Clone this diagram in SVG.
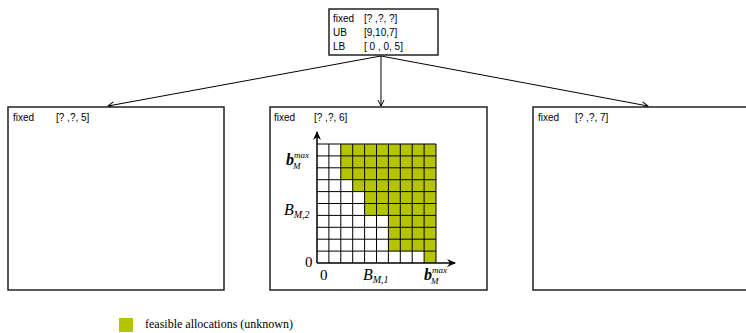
<svg xmlns="http://www.w3.org/2000/svg" width="746" height="333" viewBox="0 0 746 333">
<defs>
<marker id="ah" markerWidth="8" markerHeight="8" refX="7" refY="4" orient="auto" markerUnits="userSpaceOnUse">
<path d="M1,1 L7,4 L1,7" fill="none" stroke="#000" stroke-width="1"/>
</marker>
<marker id="ax" markerWidth="10" markerHeight="10" refX="8" refY="5" orient="auto" markerUnits="userSpaceOnUse">
<path d="M0,1 L9,5 L0,9 L3,5 Z" fill="#000"/>
</marker>
</defs>
<style>
.box{fill:#fff;stroke:#222;stroke-width:1.5}
.t{font-family:"Liberation Sans",Arial,sans-serif;font-size:10px;fill:#000}
.m{font-family:"Liberation Serif","Times New Roman",serif;font-style:italic;font-weight:bold;fill:#000}
.mi{font-family:"Liberation Serif","Times New Roman",serif;font-style:italic;fill:#000}
.s{font-family:"Liberation Serif","Times New Roman",serif;fill:#000}
.g{fill:#b4c400}
.grid{stroke:#000;stroke-width:1;fill:none}
</style>
<rect width="746" height="333" fill="#fff"/>
<g id="connectors" stroke="#000" stroke-width="1" fill="none">
<line x1="381" y1="56" x2="108" y2="106" marker-end="url(#ah)"/>
<line x1="381" y1="56" x2="381" y2="106" marker-end="url(#ah)"/>
<line x1="381" y1="56" x2="648" y2="106" marker-end="url(#ah)"/>
</g>
<g id="root">
<rect class="box" x="329" y="9" width="109" height="46"/>
<text class="t" x="333" y="22">fixed</text><text class="t" x="364" y="22">[? ,?, ?]</text>
<text class="t" x="333" y="36">UB</text><text class="t" x="364" y="36">[9,10,7]</text>
<text class="t" x="333" y="50">LB</text><text class="t" x="364" y="50">[ 0 , 0, 5]</text>
</g>
<g id="left">
<rect class="box" x="8" y="107" width="216" height="183"/>
<text class="t" x="13" y="121">fixed</text><text class="t" x="56" y="121">[? ,?, 5]</text>
</g>
<g id="middle">
<rect class="box" x="270" y="107" width="217" height="183"/>
<text class="t" x="274" y="121">fixed</text><text class="t" x="314" y="121">[? ,?, 6]</text>
<g class="g">
<rect x="340.8" y="144" width="95.2" height="35.7"/>
<rect x="352.7" y="179.7" width="83.3" height="11.9"/>
<rect x="364.6" y="191.6" width="71.4" height="23.8"/>
<rect x="388.4" y="215.4" width="47.6" height="35.7"/>
<rect x="424.1" y="251.1" width="11.9" height="11.9"/>
</g>
<path class="grid" d="M317,144H436M317,155.9H436M317,167.8H436M317,179.7H436M317,191.6H436M317,203.5H436M317,215.4H436M317,227.3H436M317,239.2H436M317,251.1H436M328.9,144V263M340.8,144V263M352.7,144V263M364.6,144V263M376.5,144V263M388.4,144V263M400.3,144V263M412.2,144V263M424.1,144V263M436,144V263"/>
<line x1="317" y1="263" x2="317" y2="132" stroke="#000" stroke-width="1.5" marker-end="url(#ax)"/>
<line x1="317" y1="263" x2="455" y2="263" stroke="#000" stroke-width="1.5" marker-end="url(#ax)"/>
<text class="m" x="286" y="165" font-size="16">b<tspan font-size="9" dy="-7" font-weight="normal">max</tspan><tspan font-size="9" dx="-16" dy="11" font-weight="normal">M</tspan></text>
<text class="mi" x="284" y="215" font-size="16">B<tspan font-size="10" dy="3">M,2</tspan></text>
<text class="s" x="305" y="267" font-size="15">0</text>
<text class="s" x="320" y="280" font-size="15">0</text>
<text class="mi" x="363" y="280" font-size="16">B<tspan font-size="10" dy="3">M,1</tspan></text>
<text class="m" x="424" y="280" font-size="16">b<tspan font-size="9" dy="-7" font-weight="normal">max</tspan><tspan font-size="9" dx="-16" dy="11" font-weight="normal">M</tspan></text>
</g>
<g id="right">
<rect class="box" x="533" y="107" width="225" height="183"/>
<text class="t" x="538" y="121">fixed</text><text class="t" x="575" y="121">[? ,?, 7]</text>
</g>
<g id="legend">
<rect class="g" x="119" y="318" width="14" height="14"/>
<text class="s" x="145" y="328" font-size="12">feasible allocations (unknown)</text>
</g>
</svg>
